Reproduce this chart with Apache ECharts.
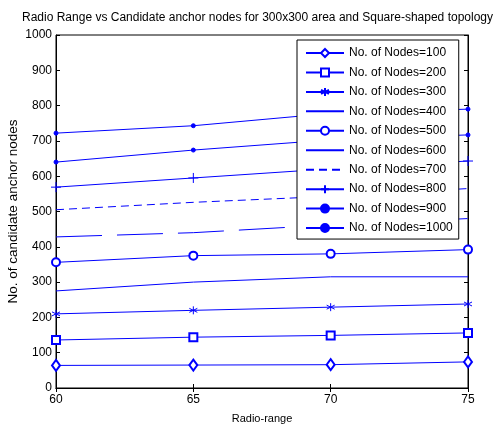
<!DOCTYPE html>
<html>
<head>
<meta charset="utf-8">
<script src="https://cdn.jsdelivr.net/npm/echarts@6/dist/echarts.min.js"></script>
<style>
  html, body { margin: 0; padding: 0; background: #fff; }
  #chart { width: 497px; height: 424px; }
</style>
</head>
<body>
<div id="chart"></div>
<script>
// radio range on x, candidate anchor nodes per node count
let radio = [60, 65, 70, 75];
let nodeLabels = ["No. of Nodes=100", "No. of Nodes=200", "No. of Nodes=300", "No. of Nodes=400",
  "No. of Nodes=500", "No. of Nodes=600", "No. of Nodes=700", "No. of Nodes=800",
  "No. of Nodes=900", "No. of Nodes=1000"];
let n100 = [64, 65, 66, 74];
let n200 = [136, 144, 149, 156];
let n300 = [210, 220, 229, 238];
let n400 = [275, 300, 315, 315];
let n500 = [356, 375, 380, 392];
let n600 = [428, 440, 462, 480];
let n700 = [505, 526, 543, 565];
let n800 = [569, 595, 621, 643];
let n900 = [640, 674, 703, 717];
let n1000 = [722, 743, 778, 790];
let yTicks = [0, 100, 200, 300, 400, 500, 600, 700, 800, 900, 1000];

let allValues = [n100, n200, n300, n400, n500, n600, n700, n800, n900, n1000];

let blue = "#0000ff";
let star = "path://M0,-5L0,5M-4.3,-2.5L4.3,2.5M-4.3,2.5L4.3,-2.5";
let plus = "path://M-5,0L5,0M0,-5L0,5";

// marker + line type for each series
let looks = [
  { symbol: "emptyDiamond", size: [8, 11], type: "solid" },
  { symbol: "emptyRect", size: 8, type: "solid" },
  { symbol: star, size: 8, type: "solid" },
  { symbol: "none", size: 0, type: "solid" },
  { symbol: "emptyCircle", size: 8, type: "solid" },
  { symbol: "none", size: 0, type: [46, 15] },
  { symbol: "none", size: 0, type: [8, 5] },
  { symbol: plus, size: 10, type: "solid" },
  { symbol: "circle", size: 4, type: "solid" },
  { symbol: "circle", size: 4, type: "solid" },
];

let chartDom = document.getElementById("chart");
let myChart = echarts.init(chartDom);

let series = allValues.map(function (vals, i) {
  let lk = looks[i];
  return {
    name: nodeLabels[i],
    type: "line",
    data: vals.map(function (v, j) { return [radio[j], v]; }),
    symbol: lk.symbol,
    symbolSize: lk.size,
    showSymbol: lk.symbol != "none",
    color: blue,
    lineStyle: { color: blue, width: 1, type: lk.type },
    itemStyle: { color: blue, borderColor: blue, borderWidth: 1 },
    emphasis: { disabled: true },
    animation: false,
    z: 2,
  };
});

// legend entries; hide the fallback circle for lines without markers
let legendData = nodeLabels.map(function (name, i) {
  let item = { name: name };
  if (looks[i].symbol == "none") item.itemStyle = { opacity: 0 };
  if (looks[i].symbol.indexOf("empty") == 0) item.itemStyle = { borderWidth: 1 };
  return item;
});

let axisText = { color: "#000", fontSize: 12, fontFamily: "Liberation Sans" };

var option = {
  animation: false,
  title: {
    text: "Radio Range vs Candidate anchor nodes for 300x300 area and Square-shaped topology",
    left: 17,
    top: 7,
    textStyle: { color: "#000", fontSize: 12, fontWeight: "normal", fontFamily: "Liberation Sans" },
  },
  grid: { left: 56, right: 29, top: 35, bottom: 36, outerBoundsMode: "none", containLabel: false, show: true, borderColor: "#000", borderWidth: 1 },
  legend: {
    orient: "vertical",
    left: 297,
    top: 40,
    width: 161,
    itemWidth: 38,
    itemHeight: 10,
    itemGap: 7.45,
    padding: [7, 6, 5, 8],
    backgroundColor: "#fff",
    borderColor: "#000",
    borderWidth: 1,
    textStyle: { color: "#000", fontSize: 12, fontFamily: "Liberation Sans" },
    data: legendData,
  },
  xAxis: [
    {
      type: "value",
      min: 60,
      max: 75,
      interval: 5,
      name: "Radio-range",
      nameLocation: "middle",
      nameGap: 25,
      nameMoveOverlap: false,
      nameTextStyle: { color: "#000", fontSize: 11, fontFamily: "Liberation Sans" },
      axisLine: { lineStyle: { color: "#000" } },
      axisTick: { inside: true, length: 4, lineStyle: { color: "#000" } },
      axisLabel: Object.assign({ margin: 6 }, axisText),
      splitLine: { show: false },
    },
    {
      type: "value",
      position: "top",
      min: 60,
      max: 75,
      interval: 5,
      axisLine: { lineStyle: { color: "#000" } },
      axisTick: { inside: true, length: 4, lineStyle: { color: "#000" } },
      axisLabel: { show: false },
      splitLine: { show: false },
    },
  ],
  yAxis: [
    {
      type: "value",
      min: yTicks[0],
      max: yTicks[yTicks.length - 1],
      interval: 100,
      name: "No. of candidate anchor nodes",
      nameLocation: "middle",
      nameGap: 36,
      nameMoveOverlap: false,
      nameTextStyle: { color: "#000", fontSize: 13.5, fontFamily: "Liberation Sans" },
      axisLine: { show: true, lineStyle: { color: "#000" } },
      axisTick: { show: true, inside: true, length: 4, lineStyle: { color: "#000" } },
      axisLabel: Object.assign({ margin: 4, formatter: function (v) { return String(v); } }, axisText),
      splitLine: { show: false },
    },
    {
      type: "value",
      position: "right",
      min: yTicks[0],
      max: yTicks[yTicks.length - 1],
      interval: 100,
      axisLine: { show: true, lineStyle: { color: "#000" } },
      axisTick: { show: true, inside: true, length: 4, lineStyle: { color: "#000" } },
      axisLabel: { show: false },
      splitLine: { show: false },
    },
  ],
  series: series,
};

myChart.setOption(option);
</script>
</body>
</html>
